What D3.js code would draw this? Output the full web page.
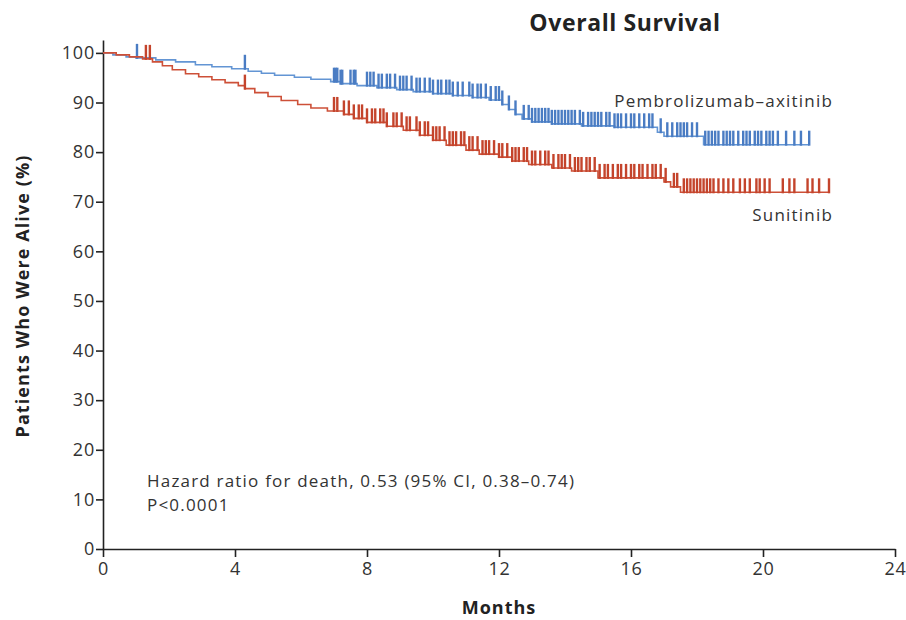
<!DOCTYPE html>
<html>
<head>
<meta charset="utf-8">
<script src="https://cdn.jsdelivr.net/npm/d3@7/dist/d3.min.js"></script>
<style>
  html, body { margin: 0; padding: 0; background: #fff; }
  svg { display: block; font-family: "Open Sans", Lato, sans-serif; }
</style>
</head>
<body>
<svg id="chart" width="906" height="620"></svg>
<script>
// Kaplan–Meier estimates: [month, percent alive after the step]
const pembroSteps = [
  [0, 100], [0.3, 99.6], [0.7, 99.2], [1.0, 99.0], [1.6, 98.6], [2.2, 98.2],
  [2.8, 97.6], [3.3, 97.2], [3.9, 96.8], [4.4, 96.3], [4.8, 95.9], [5.2, 95.5],
  [5.8, 95.1], [6.3, 94.7], [6.9, 94.2], [7.2, 93.8], [7.7, 93.4], [8.3, 93.0],
  [8.9, 92.6], [9.4, 92.2], [10.0, 91.8], [10.6, 91.4], [11.2, 91.0], [11.7, 90.5],
  [12.1, 89.6], [12.3, 88.6], [12.5, 87.6], [12.7, 86.7], [13.0, 86.1], [13.6, 85.7],
  [14.5, 85.3], [15.5, 85.0], [16.8, 84.0], [17.0, 83.2], [18.2, 81.5], [21.4, 81.5]
];
const sunitinibSteps = [
  [0, 100], [0.4, 99.6], [0.8, 99.2], [1.2, 98.8], [1.5, 98.2], [1.8, 97.4],
  [2.1, 96.6], [2.5, 95.8], [2.9, 95.2], [3.3, 94.6], [3.7, 94.0], [4.1, 93.4],
  [4.3, 92.8], [4.6, 92.0], [5.0, 91.2], [5.4, 90.4], [5.9, 89.6], [6.3, 88.9],
  [6.8, 88.3], [7.3, 87.6], [7.6, 86.8], [8.0, 86.0], [8.6, 85.2], [9.1, 84.4],
  [9.6, 83.4], [10.0, 82.4], [10.4, 81.4], [11.0, 80.4], [11.4, 79.6], [12.0, 79.0],
  [12.4, 78.2], [12.9, 77.5], [13.6, 76.8], [14.2, 76.2], [15.0, 74.8], [17.0, 74.0],
  [17.2, 73.0], [17.5, 71.9], [22.0, 71.9]
];

// Censoring times (months)
const pembroCensored = [
  1.03, 4.3,
  7.0, 7.05, 7.1, 7.2, 7.25, 7.5, 7.6, 7.65, 8.0, 8.1, 8.2, 8.35, 8.45, 8.6, 8.7,
  8.85, 9.0, 9.1, 9.2, 9.35, 9.5, 9.6, 9.75, 9.9, 10.0, 10.15, 10.25, 10.4, 10.5,
  10.6, 10.75, 10.9, 11.1, 11.2, 11.35, 11.45, 11.6, 11.75, 11.9, 12.0, 12.1, 12.3,
  12.5, 12.75, 12.9, 13.0, 13.1, 13.2, 13.3, 13.4, 13.5, 13.6, 13.7, 13.8, 13.9,
  14.0, 14.1, 14.2, 14.3, 14.45, 14.55, 14.7, 14.8, 14.9, 15.0, 15.1, 15.25, 15.35,
  15.5, 15.6, 15.7, 15.85, 16.0, 16.1, 16.25, 16.4, 16.55, 16.65, 16.9, 17.1, 17.25,
  17.4, 17.5, 17.6, 17.7, 17.85, 18.0, 18.25, 18.35, 18.45, 18.55, 18.65, 18.8, 18.9,
  19.0, 19.1, 19.25, 19.4, 19.5, 19.6, 19.75, 19.85, 19.95, 20.1, 20.2, 20.3, 20.45,
  20.7, 20.95, 21.15, 21.4
];
const sunitinibCensored = [
  1.3, 1.42, 4.3,
  7.0, 7.1, 7.3, 7.45, 7.6, 7.75, 7.85, 8.0, 8.15, 8.25, 8.4, 8.5, 8.6, 8.8, 8.9,
  9.05, 9.2, 9.3, 9.5, 9.6, 9.75, 9.85, 10.0, 10.1, 10.2, 10.35, 10.5, 10.6, 10.7,
  10.85, 10.95, 11.1, 11.2, 11.35, 11.5, 11.6, 11.7, 11.85, 12.0, 12.1, 12.25, 12.4,
  12.5, 12.6, 12.75, 12.85, 13.0, 13.1, 13.25, 13.4, 13.5, 13.65, 13.8, 13.9, 14.0,
  14.15, 14.3, 14.4, 14.5, 14.65, 14.75, 14.9, 15.05, 15.2, 15.3, 15.45, 15.6, 15.7,
  15.85, 16.0, 16.1, 16.25, 16.35, 16.5, 16.65, 16.75, 16.9, 17.05, 17.3, 17.4, 17.6,
  17.7, 17.8, 17.9, 18.0, 18.1, 18.2, 18.3, 18.4, 18.5, 18.65, 18.8, 18.95, 19.1,
  19.3, 19.45, 19.6, 19.8, 19.9, 20.05, 20.2, 20.6, 20.8, 20.95, 21.35, 21.5, 21.7, 22.0
];

const xTicks = [0, 4, 8, 12, 16, 20, 24];
const yTicks = [0, 10, 20, 30, 40, 50, 60, 70, 80, 90, 100];

const arms = [
  { name: "Pembrolizumab–axitinib", steps: pembroSteps, censored: pembroCensored,
    line: "#6395d4", mark: "#4a7cc3", labelDy: -38 },
  { name: "Sunitinib", steps: sunitinibSteps, censored: sunitinibCensored,
    line: "#cd5038", mark: "#c4442c", labelDy: 29 }
];

const svg = d3.select("#chart");
const x = d3.scaleLinear().domain([0, 24]).range([103, 895]);
const y = d3.scaleLinear().domain([0, 102.6]).range([549, 40]);

const textColor = "#333";

// Axes
const yAxis = svg.append("g")
  .attr("transform", `translate(${x(0)},0)`)
  .call(d3.axisLeft(y).tickValues(yTicks).tickSize(7).tickSizeOuter(0).tickPadding(1));
const xAxis = svg.append("g")
  .attr("transform", `translate(0,${y(0)})`)
  .call(d3.axisBottom(x).tickValues(xTicks).tickSize(8).tickSizeOuter(0).tickPadding(5));

[yAxis, xAxis].forEach(g => {
  g.select(".domain").attr("stroke", "#222").attr("stroke-width", 1.6);
  g.selectAll(".tick line").attr("stroke", "#222").attr("stroke-width", 1.6);
  g.selectAll(".tick text")
    .attr("fill", textColor)
    .style("font-family", "'Open Sans', Lato, sans-serif")
    .style("font-size", "18px")
    .style("letter-spacing", "0.8px");
});

// Survival curves and censoring marks
const stepLine = d3.line()
  .x(d => x(d[0]))
  .y(d => y(d[1]))
  .curve(d3.curveStepAfter);
const bisect = d3.bisector(d => d[0]).right;

arms.forEach(arm => {
  svg.append("path")
    .datum(arm.steps)
    .attr("fill", "none")
    .attr("stroke", arm.line)
    .attr("stroke-width", 1.6)
    .attr("d", stepLine);

  const survAt = t => arm.steps[Math.max(0, bisect(arm.steps, t) - 1)][1];
  svg.append("g")
    .selectAll("line")
    .data(arm.censored)
    .join("line")
    .attr("x1", d => x(d))
    .attr("x2", d => x(d))
    .attr("y1", d => y(survAt(d)) + 1)
    .attr("y2", d => y(survAt(d)) - 14)
    .attr("stroke", arm.mark)
    .attr("stroke-width", 2.4);

  const last = arm.steps[arm.steps.length - 1];
  svg.append("text")
    .attr("x", 833)
    .attr("y", y(last[1]) + arm.labelDy)
    .attr("text-anchor", "end")
    .attr("fill", textColor)
    .style("font-size", "17px")
    .style("letter-spacing", "1.2px")
    .text(arm.name);
});

// Title and axis titles
svg.append("text")
  .attr("x", 625).attr("y", 31)
  .attr("text-anchor", "middle")
  .attr("fill", "#222")
  .style("font-size", "23px").style("font-weight", "bold")
  .style("letter-spacing", "0.6px")
  .text("Overall Survival");

svg.append("text")
  .attr("x", x(12)).attr("y", 614)
  .attr("text-anchor", "middle")
  .attr("fill", "#222")
  .style("font-size", "18px").style("font-weight", "bold")
  .style("letter-spacing", "1px")
  .text("Months");

svg.append("text")
  .attr("transform", "translate(29,296) rotate(-90)")
  .attr("text-anchor", "middle")
  .attr("fill", "#222")
  .style("font-size", "18px").style("font-weight", "bold")
  .style("letter-spacing", "1.1px")
  .text("Patients Who Were Alive (%)");

// Hazard ratio annotation
svg.append("text")
  .attr("x", 147).attr("y", 487)
  .attr("fill", textColor)
  .style("font-size", "17px")
  .style("letter-spacing", "1.2px")
  .text("Hazard ratio for death, 0.53 (95% CI, 0.38–0.74)");
svg.append("text")
  .attr("x", 147).attr("y", 511)
  .attr("fill", textColor)
  .style("font-size", "17px")
  .style("letter-spacing", "1.2px")
  .text("P<0.0001");
</script>
</body>
</html>
